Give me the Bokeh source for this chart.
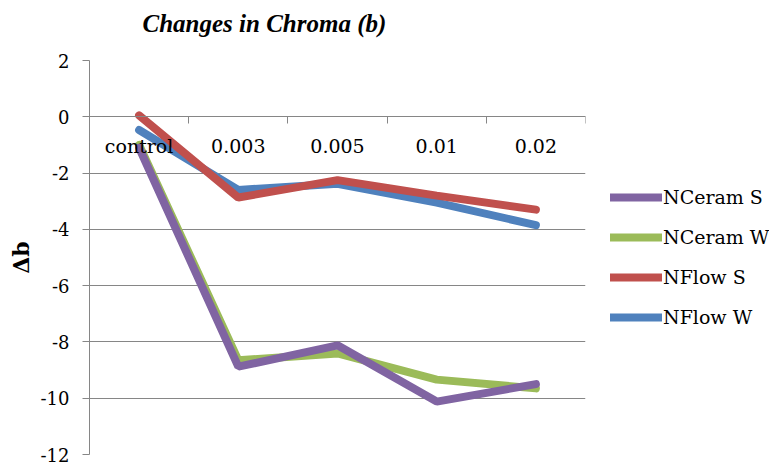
from bokeh.plotting import figure
from bokeh.models import Range1d, FixedTicker, Legend, LegendItem, LinearAxis, Title
from bokeh.embed import file_html
from bokeh.resources import INLINE

categories = ["control", "0.003", "0.005", "0.01", "0.02"]
nceram_s = [-1.1, -8.88, -8.12, -10.12, -9.5]
nceram_w = [-1.0, -8.65, -8.41, -9.34, -9.65]
nflow_s = [0.05, -2.87, -2.25, -2.8, -3.3]
nflow_w = [-0.47, -2.6, -2.38, -3.05, -3.85]
y_ticks = [2, 0, -2, -4, -6, -8, -10, -12]
grid_ticks = [0, -2, -4, -6, -8, -10, -12]

GRAY = "#868686"
FONT = "DejaVu Serif"

x = [i + 0.5 for i in range(len(categories))]
bounds = [i for i in range(len(categories) + 1)]

p = figure(frame_width=496, frame_height=394,
           x_range=Range1d(0, len(categories)), y_range=Range1d(-12, 2),
           output_backend="svg", toolbar_location=None,
           x_axis_location=None, y_axis_location="left",
           min_border_left=89, min_border_top=60, min_border_bottom=11, min_border_right=0)
p.outline_line_color = None
p.background_fill_color = "white"
p.border_fill_color = "white"

# spacer between frame and title
p.add_layout(Title(text=" ", text_font_size="12px", standoff=7), "above")

# title
p.title.text = "Changes in Chroma (b)"
p.title.text_font = "Liberation Serif"
p.title.text_font_style = "bold italic"
p.title.text_font_size = "25px"
p.title.text_color = "black"
p.title.align = "left"
p.title.offset = 53
p.title.standoff = 2

# y axis
ya = p.yaxis[0]
ya.ticker = FixedTicker(ticks=y_ticks)
ya.major_label_overrides = {t: str(t) for t in y_ticks}
ya.axis_line_color = GRAY
ya.major_tick_line_color = GRAY
ya.major_tick_out = 7
ya.major_tick_in = 0
ya.minor_tick_line_color = None
ya.major_label_standoff = 13
ya.major_label_text_font = FONT
ya.major_label_text_font_size = "18px"
ya.major_label_text_color = "black"
ya.axis_label = "Δb"
ya.axis_label_text_font = FONT
ya.axis_label_text_font_style = "bold"
ya.axis_label_text_font_size = "22px"
ya.axis_label_text_color = "black"
ya.axis_label_standoff = 4

p.ygrid.ticker = FixedTicker(ticks=grid_ticks)
p.ygrid.grid_line_color = GRAY
p.xgrid.visible = False

# x axis crossing at y = 0
xa = LinearAxis(fixed_location=0,
                ticker=FixedTicker(ticks=x, minor_ticks=bounds),
                major_label_overrides={xi: c for xi, c in zip(x, categories)})
xa.axis_line_color = GRAY
xa.major_tick_line_color = None
xa.major_tick_out = 0
xa.major_tick_in = 0
xa.minor_tick_line_color = GRAY
xa.minor_tick_out = 7
xa.minor_tick_in = 0
xa.major_label_standoff = 11
xa.major_label_text_font = FONT
xa.major_label_text_font_size = "19px"
xa.major_label_text_color = "black"
p.add_layout(xa, "below")

LW = 8
r_w = p.line(x, nceram_w, line_color="#9BBB59", line_width=LW, line_cap="round")
r_s = p.line(x, nceram_s, line_color="#8064A2", line_width=LW, line_cap="round")
r_fw = p.line(x, nflow_w, line_color="#4F81BD", line_width=LW, line_cap="round")
r_fs = p.line(x, nflow_s, line_color="#C0504D", line_width=LW, line_cap="round")

legend = Legend(items=[LegendItem(label="NCeram S", renderers=[r_s]),
                       LegendItem(label="NCeram W", renderers=[r_w]),
                       LegendItem(label="NFlow S", renderers=[r_fs]),
                       LegendItem(label="NFlow W", renderers=[r_fw])],
                location="center_left", orientation="vertical",
                glyph_width=52, glyph_height=20, label_height=20, spacing=18,
                label_standoff=1, padding=2, margin=25,
                border_line_color=None, background_fill_alpha=0,
                label_text_font=FONT, label_text_font_size="19px",
                label_text_color="black")
p.add_layout(legend, "right")

open("out.html", "w").write(file_html(p, INLINE))
